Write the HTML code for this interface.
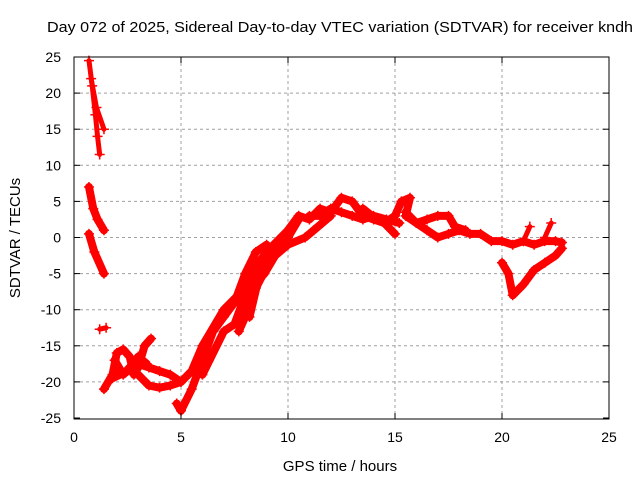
<!DOCTYPE html>
<html><head><meta charset="utf-8"><style>
body{margin:0;background:#fff;}
svg text{font-family:"Liberation Sans",sans-serif;font-size:14px;fill:#000;}
</style></head><body>
<svg id="chart" width="640" height="480" xmlns="http://www.w3.org/2000/svg">
<rect width="640" height="480" fill="#fff"/>
<text x="47" y="32" textLength="586" lengthAdjust="spacingAndGlyphs" style="font-size:15px">Day 072 of 2025, Sidereal Day-to-day VTEC variation (SDTVAR) for receiver kndh</text>
<g id="grid"></g>
<g id="marks"></g>
<rect x="74" y="57" width="535" height="362" fill="none" stroke="#000" stroke-width="1"/>
<g id="ticks"></g>
<text x="340" y="471" text-anchor="middle" style="font-size:15px">GPS time / hours</text>
<text transform="translate(20,238) rotate(-90)" text-anchor="middle" style="font-size:15px">SDTVAR / TECUs</text>
</svg>
<script>
const xTicks=[0,5,10,15,20,25];
const yTicks=[25,20,15,10,5,0,-5,-10,-15,-20,-25];
const trackTop1=[[0.7,24.5],[0.85,21],[1.0,17],[1.1,14],[1.2,11.5]];
const trackTop2=[[0.8,22],[1.05,18],[1.4,15]];
const trackMid1=[[0.7,7],[0.9,4],[1.1,2.5],[1.4,1]];
const trackMid2=[[0.7,0.5],[0.95,-2],[1.4,-5]];
const trackSmall=[[1.2,-12.7],[1.5,-12.5]];
const trackCluster1=[[1.4,-21],[1.8,-19],[2.0,-16],[2.3,-15.5],[2.6,-16.5],[2.8,-19],[3.0,-18],[3.3,-15],[3.6,-14]];
const trackCluster2=[[1.8,-19.5],[2.5,-18.5],[3,-17.5],[3.5,-18],[4,-18.5],[4.5,-19],[5,-20],[5.5,-18.5],[6,-15],[7,-10],[8,-7],[9,-3],[10,0],[10.5,2.5]];
const trackCluster3=[[3,-19],[3.5,-20.5],[4,-20.8],[4.5,-20.5],[5,-20]];
const trackCluster4=[[1.9,-17],[2.3,-19],[2.6,-18],[3,-16.5],[3.4,-17.5]];
const trackLow=[[4.8,-23],[5,-24],[5.5,-21],[6,-17],[6.5,-13],[7,-11],[7.5,-9],[8,-5],[8.5,-2],[9,-1]];
const trackStrand1=[[6,-19],[7,-13],[7.5,-12],[8,-8],[8.5,-4],[9,-2],[10,1],[10.5,3]];
const trackStrand2=[[7.7,-13],[8,-11],[8.5,-7],[9.2,-3],[10,-1],[10.8,0],[11.2,1],[11.6,2],[12,3]];
const trackStrand3=[[8.2,-11],[8.6,-6],[8.9,-5],[9.4,-2.5]];
const trackMain=[[10,1],[10.5,3],[11,2.5],[11.5,4],[12,3.5],[12.5,5.5],[13,5],[13.5,3],[14,2.5],[14.5,2],[15,3],[15.3,5],[15.7,5.5],[15.5,3],[16,2],[16.5,1],[17,0],[17.5,0.5],[18,1],[18.5,0.5],[19,0.5],[19.5,-0.5],[20,-0.5],[20.5,-1],[21,-0.5],[21.5,-1],[22,-0.5],[22.5,-0.5],[22.8,-0.7]];
const trackMain2=[[11,3],[11.5,3],[12,4],[12.5,3.5],[13,3],[13.5,2.5],[14,3],[14.6,2.5],[15.2,2]];
const trackLoop=[[15.5,3.5],[16,2],[16.5,2.5],[17,3],[17.5,3],[17.8,1.5],[18.3,1]];
const trackBranch=[[13.5,4],[14,2.8],[14.5,2],[15,0.5]];
const trackDip=[[20,-3.5],[20.3,-5],[20.5,-8],[21,-6.5],[21.5,-4.5],[22,-3.5],[22.5,-2.5],[22.8,-1.5]];
const trackSpike1=[[21,-0.5],[21.3,1.5]];
const trackSpike2=[[22,0],[22.3,2]];
const tracks=[trackTop1,trackTop2,trackMid1,trackMid2,trackSmall,trackCluster1,trackCluster2,trackCluster3,trackCluster4,trackLow,trackStrand1,trackStrand2,trackStrand3,trackMain,trackMain2,trackLoop,trackBranch,trackDip,trackSpike1,trackSpike2];
const X=v=>74+v*535/25, Y=v=>237.5-v*361/50;
const NS="http://www.w3.org/2000/svg";
const grid=document.getElementById('grid'),ticks=document.getElementById('ticks'),marks=document.getElementById('marks');
function mk(tag,attrs,parent){const e=document.createElementNS(NS,tag);for(const k in attrs)e.setAttribute(k,attrs[k]);parent.appendChild(e);return e;}
xTicks.forEach(t=>{
  if(t>0&&t<25){const g=mk('line',{x1:X(t),x2:X(t),y1:57,y2:419,stroke:'#a0a0a0','stroke-dasharray':'3,3'},grid);
  
  }
  mk('line',{x1:X(t),x2:X(t),y1:419,y2:413,stroke:'#000'},ticks);
  mk('line',{x1:X(t),x2:X(t),y1:57,y2:63,stroke:'#000'},ticks);
  const l=mk('text',{x:X(t),y:442,'text-anchor':'middle'},ticks);l.textContent=t;
  
  
});
yTicks.forEach(t=>{
  if(t>-25&&t<25){const g=mk('line',{x1:74,x2:609,y1:Y(t),y2:Y(t),stroke:'#a0a0a0','stroke-dasharray':'3,3'},grid);
  
  }
  mk('line',{x1:74,x2:80,y1:Y(t),y2:Y(t),stroke:'#000'},ticks);
  mk('line',{x1:603,x2:609,y1:Y(t),y2:Y(t),stroke:'#000'},ticks);
  const l=mk('text',{x:61,y:Y(t)+5,'text-anchor':'end'},ticks);l.textContent=t;
  
  
});
tracks.forEach(tr=>{
  const wide=tr.length>2&&tr!==trackTop1&&tr!==trackTop2;
  const p=mk('polyline',{points:tr.map(d=>X(d[0])+','+Y(d[1])).join(' '),fill:'none',stroke:'#ff0000','stroke-width':wide?8:5,'stroke-linejoin':'round','stroke-linecap':'round'},marks);
  
  
  tr.forEach(d=>{
    const m=mk('path',{d:`M${X(d[0])-5},${Y(d[1])}h10M${X(d[0])},${Y(d[1])-5}v10`,stroke:'#ff0000','stroke-width':1.5},marks);
    
    
  });
});
</script>
</body></html>
